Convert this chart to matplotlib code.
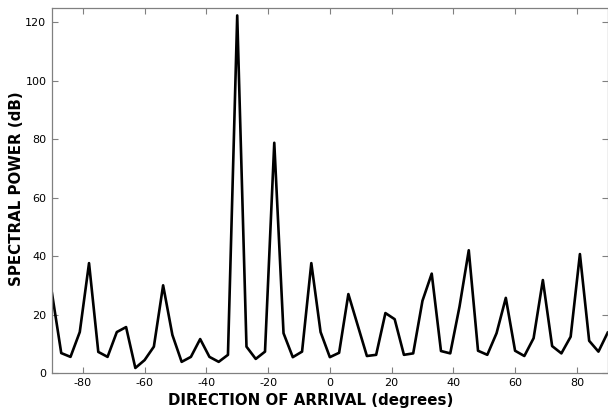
import numpy as np
import matplotlib.pyplot as plt

plt.rcParams['axes.unicode_minus'] = False

# direction of arrival grid (degrees), one sample every 3 degrees
doa = np.arange(-90, 91, 3)

# spectral power (dB)
power = [27.3, 6.8, 5.5, 14.0, 37.6, 7.2, 5.5, 14.0, 15.7, 1.7,
         4.4, 9.0, 30.0, 13.0, 3.8, 5.5, 11.6, 5.5, 3.8, 6.2,
         122.4, 9.0, 4.8, 7.3, 78.8, 13.6, 5.4, 7.3, 37.6, 14.0,
         5.4, 6.9, 27.0, 16.4, 5.8, 6.2, 20.5, 18.4, 6.2, 6.7,
         24.7, 34.0, 7.5, 6.7, 22.7, 42.0, 7.6, 6.2, 13.6, 25.7,
         7.6, 5.8, 11.9, 31.8, 9.2, 6.7, 12.4, 40.7, 11.0, 7.3,
         13.8]

xticks = [-80, -60, -40, -20, 0, 20, 40, 60, 80]
yticks = [0, 20, 40, 60, 80, 100, 120]

fig = plt.figure(figsize=(6.08, 4.13), dpi=100)
ax = fig.add_axes([0.0855, 0.097, 0.914, 0.884])

ax.plot(doa, power, color='black', linewidth=1.9)

ax.set_xlim(-90, 90)
ax.set_ylim(0, 125)
ax.set_xticks(xticks)
ax.set_yticks(yticks)

for s in ax.spines.values():
    s.set_color('#808080')
    s.set_linewidth(0.9)
ax.tick_params(direction='in', top=True, right=True, length=4, width=0.8,
               color='#808080', labelsize=8, pad=4)

ax.set_xlabel('DIRECTION OF ARRIVAL (degrees)', fontsize=10.8, fontweight='bold')
ax.set_ylabel('SPECTRAL POWER (dB)', fontsize=10.8, fontweight='bold')
ax.xaxis.set_label_coords(0.465, -0.056)
ax.yaxis.set_label_coords(-0.05, 0.505)

fig.savefig('out.png', dpi=100)
